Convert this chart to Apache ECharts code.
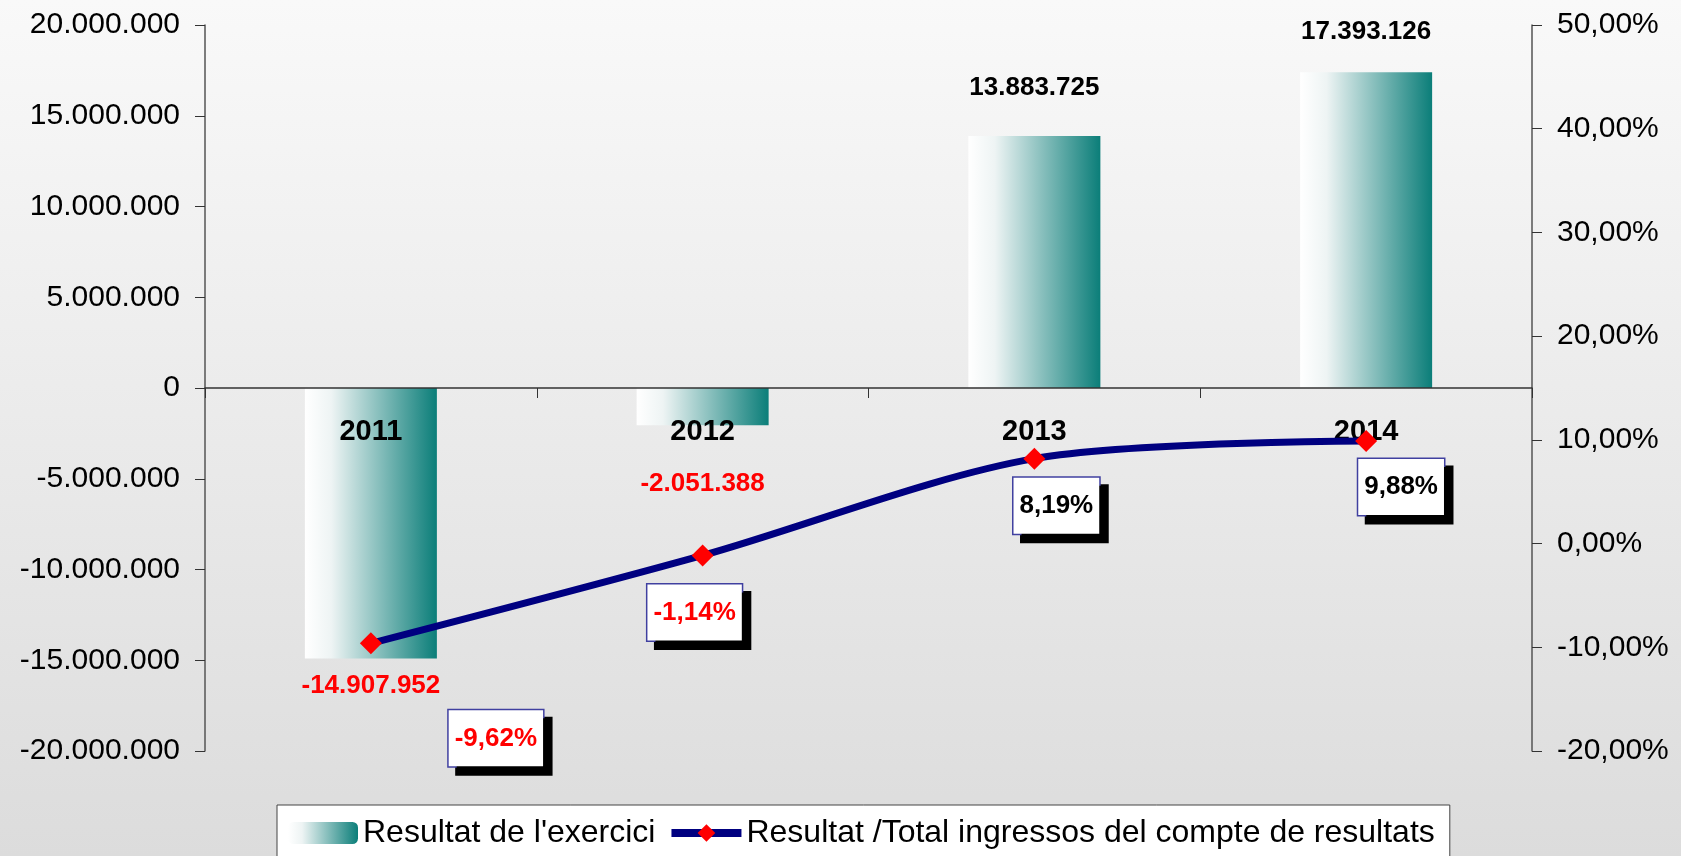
<!DOCTYPE html>
<html>
<head>
<meta charset="utf-8">
<title>Resultat de l'exercici</title>
<script src="https://cdn.jsdelivr.net/npm/echarts@6/dist/echarts.min.js"></script>
<style>
  html, body { margin: 0; padding: 0; }
  #chart { width: 1681px; height: 856px; }
</style>
</head>
<body>
<div id="chart"></div>
<script>
// data
const years = ['2011', '2012', '2013', '2014'];
const resultat = [-14907952, -2051388, 13883725, 17393126];
const ratioPct = [-9.62, -1.14, 8.19, 9.88];

// label placement (styling only)
const barLabelDistance = [14, 46, 35, 27];
const ratioLabelOffset = [[125, 95], [-8, 57], [22, 47], [35, 46]];

const FONT = "'Liberation Sans', Arial, sans-serif";
const GRID = { left: 205, right: 149, top: 25, bottom: 105 };
const PLOT_H = 856 - GRID.top - GRID.bottom;

function fmtThousands(v) {
  const s = Math.abs(Math.round(v)).toString().replace(/\B(?=(\d{3})+(?!\d))/g, '.');
  return (v < 0 ? '-' : '') + s;
}

function fmtPct(v) {
  return v.toFixed(2).replace('.', ',') + '%';
}

const chart = echarts.init(document.getElementById('chart'));

const barData = resultat.map((v, i) => ({
  value: v,
  label: {
    position: v < 0 ? 'bottom' : 'top',
    distance: barLabelDistance[i],
    color: v < 0 ? '#ff0000' : '#000000'
  }
}));

const lineData = ratioPct.map((v, i) => ({
  value: v,
  label: {
    offset: ratioLabelOffset[i],
    color: v < 0 ? '#ff0000' : '#000000'
  }
}));

chart.setOption({
  backgroundColor: new echarts.graphic.LinearGradient(0, 0, 0, 1, [
    { offset: 0, color: '#f9f9f9' },
    { offset: 1, color: '#dcdcdc' }
  ]),
  animation: false,
  textStyle: { fontFamily: FONT },
  grid: GRID,
  legend: {
    left: 277,
    top: 805,
    padding: [12, 15, 40, 11],
    itemGap: 12,
    itemWidth: 70,
    itemHeight: 22,
    backgroundColor: '#ffffff',
    borderColor: '#444444',
    borderWidth: 1,
    borderRadius: 0,
    textStyle: { fontSize: 32, color: '#000000', fontFamily: FONT },
    data: [
      { name: 'Resultat de l\'exercici' },
      {
        name: 'Resultat /Total ingressos del compte de resultats',
        lineStyle: { width: 8, color: '#000080' }
      }
    ]
  },
  xAxis: {
    type: 'category',
    data: years,
    z: 5,
    // x axis sits on the zero line of the left axis (-20M..20M => middle)
    offset: -PLOT_H / 2,
    axisLine: { onZero: false, lineStyle: { color: '#333333', width: 1.5 } },
    axisTick: { show: true, length: 10, lineStyle: { color: '#333333' } },
    axisLabel: { fontSize: 29, fontWeight: 'bold', color: '#000000', margin: 29, fontFamily: FONT },
    splitLine: { show: false }
  },
  yAxis: [
    {
      type: 'value',
      min: -20000000,
      max: 20000000,
      interval: 5000000,
      position: 'left',
      axisLine: { show: true, lineStyle: { color: '#555555', width: 1.5 } },
      axisTick: { show: true, length: 10, lineStyle: { color: '#333333' } },
      axisLabel: { fontSize: 30, color: '#000000', margin: 25, formatter: fmtThousands, fontFamily: FONT },
      splitLine: { show: false }
    },
    {
      type: 'value',
      min: -20,
      max: 50,
      interval: 10,
      position: 'right',
      axisLine: { show: true, lineStyle: { color: '#555555', width: 1.5 } },
      axisTick: { show: true, length: 10, lineStyle: { color: '#333333' } },
      axisLabel: { fontSize: 30, color: '#000000', margin: 25, formatter: fmtPct, fontFamily: FONT },
      splitLine: { show: false }
    }
  ],
  series: [
    {
      name: 'Resultat de l\'exercici',
      type: 'bar',
      yAxisIndex: 0,
      barWidth: 132,
      z: 2,
      data: barData,
      itemStyle: {
        color: new echarts.graphic.LinearGradient(0, 0, 1, 0, [
          { offset: 0, color: '#ffffff' },
          { offset: 0.2, color: '#eef4f4' },
          { offset: 1, color: '#0b7e79' }
        ])
      },
      label: {
        show: true,
        fontSize: 26,
        fontWeight: 'bold',
        fontFamily: FONT,
        formatter: p => fmtThousands(p.value)
      }
    },
    {
      name: 'Resultat /Total ingressos del compte de resultats',
      type: 'line',
      yAxisIndex: 1,
      z: 6,
      smooth: 0.3,
      data: lineData,
      lineStyle: { color: '#000080', width: 7 },
      itemStyle: { color: '#ff0000' },
      symbol: 'diamond',
      symbolSize: 22,
      label: {
        show: true,
        position: 'inside',
        align: 'center',
        verticalAlign: 'middle',
        fontSize: 26,
        fontWeight: 'bold',
        fontFamily: FONT,
        lineHeight: 28,
        backgroundColor: '#ffffff',
        borderColor: '#4040a0',
        borderWidth: 1.5,
        padding: [14, 6, 14, 6],
        shadowColor: '#000000',
        shadowBlur: 0,
        shadowOffsetX: 8,
        shadowOffsetY: 8,
        formatter: p => fmtPct(p.value)
      }
    }
  ]
});
</script>
</body>
</html>
